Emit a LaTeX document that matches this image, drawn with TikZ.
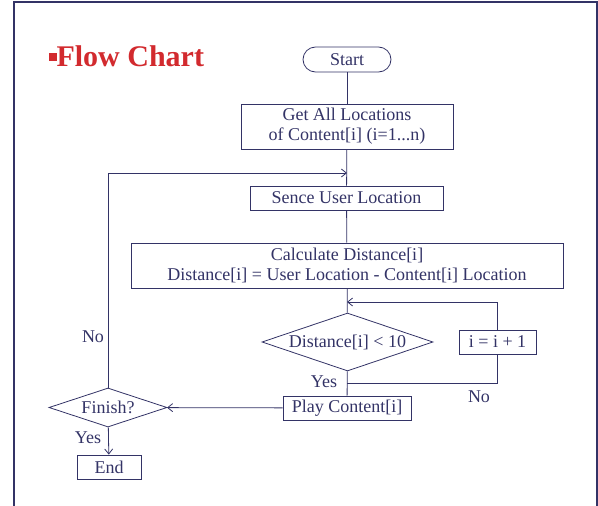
\documentclass[tikz,border=0pt]{standalone}
\usepackage{fontspec}
\setmainfont{Liberation Serif}
\usetikzlibrary{shapes.geometric,arrows.meta}
\definecolor{navy}{RGB}{51,51,102}
\definecolor{titlered}{RGB}{210,42,46}
\begin{document}
\begin{tikzpicture}[x=1pt,y=-1pt,
  every node/.style={text=navy,font=\fontsize{18}{20}\selectfont},
  box/.style={rectangle,draw=navy,line width=0.8pt,inner sep=0pt,align=center},
  test/.style={diamond,draw=navy,line width=0.8pt,inner sep=0pt},
  line/.style={draw=navy,line width=0.8pt},
  arr/.style={line,-{Straight Barb[length=5pt,width=8pt]}}]
\useasboundingbox (0,0) rectangle (598,506);
\draw [navy, line width=2pt] (14,507) -- (14,1.5) -- (596.5,1.5) -- (596.5,507);
\node [anchor=base west, text=titlered, font=\fontsize{30}{32}\selectfont\bfseries] (title) at (45,66) {\raisebox{5pt}{\rule{8pt}{8pt}}Flow Chart};
\node [box, rounded corners=12.5pt, minimum width=88pt, minimum height=25pt] (start) at (347,59.5) {Start};
\node [box, minimum width=212pt, minimum height=45pt] (get) at (347,126.5) {Get All Locations\\of Content[i] (i=1...n)};
\node [box, minimum width=193pt, minimum height=24pt] (sence) at (346.5,198) {Sence User Location};
\node [box, minimum width=432pt, minimum height=45pt] (calc) at (347,265.5) {Calculate Distance[i]\\Distance[i] = User Location - Content[i] Location};
\node [test, aspect=2.95, minimum width=171pt, minimum height=58pt] (cond) at (347.5,342) {Distance[i] < 10};
\node [box, minimum width=77pt, minimum height=24pt] (incr) at (497.5,342) {i = i + 1};
\node [box, minimum width=128pt, minimum height=24pt] (play) at (347,408) {Play Content[i]};
\node [test, aspect=3, minimum width=118pt, minimum height=39pt] (finish) at (108,407.5) {Finish?};
\node [box, minimum width=64pt, minimum height=24pt] (stop) at (109,467) {End};
\coordinate (loopin) at (347,173);
\coordinate (recheck) at (347,302);
\coordinate (yesjoin) at (347,383);
% labels
\node (nofinish) at (93,337) {No};
\node (yescond) at (324,382) {Yes};
\node (nocond) at (479,397) {No};
\node (yesfinish) at (88,438) {Yes};
% connectors
\draw [line] (start) -- (get);
\draw [line] (get) -- (sence);
\draw [line] (sence) -- (calc);
\draw [line] (calc) -- (cond);
\draw [line] (cond) -- (play);
\draw [line] (yesjoin) -| (incr);
\draw [arr] (incr) |- (recheck);
\draw [arr] (play) -- (finish);
\draw [arr] (finish) |- (loopin);
\draw [arr] (finish) -- (stop);
\end{tikzpicture}
\end{document}
